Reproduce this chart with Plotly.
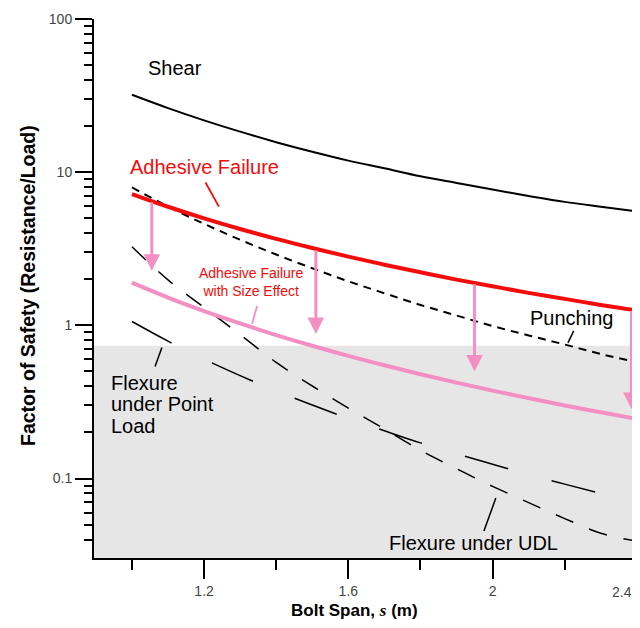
import math
import plotly.graph_objects as go

# ---------------- data ----------------
span = [1.0, 1.1, 1.2, 1.3, 1.4, 1.5, 1.6, 1.7, 1.8, 1.9, 2.0, 2.1, 2.2, 2.3, 2.4]
shear = [32, 26.2, 21.8, 18.4, 15.7, 13.6, 11.9, 10.6, 9.4, 8.5, 7.7, 7.0, 6.4, 5.95, 5.55]
adhesive = [7.2, 5.95, 5.0, 4.26, 3.67, 3.2, 2.81, 2.49, 2.22, 1.99, 1.80, 1.63, 1.49, 1.36, 1.25]
adhesive_size = [1.9, 1.52, 1.24, 1.03, 0.864, 0.736, 0.632, 0.549, 0.480, 0.423, 0.375, 0.335, 0.300, 0.271, 0.245]
punching = [7.95, 5.97, 4.60, 3.62, 2.90, 2.36, 1.94, 1.62, 1.36, 1.16, 0.99, 0.86, 0.75, 0.65, 0.575]
flex_point = [1.06, 0.789, 0.602, 0.470, 0.373, 0.302, 0.247, 0.205, 0.171, 0.145, 0.124, 0.106, 0.092, 0.080, 0.070]
flex_udl = [3.26, 1.98, 1.31, 0.87, 0.573, 0.402, 0.288, 0.211, 0.153, 0.116, 0.089, 0.0696, 0.0548, 0.0440, 0.039]

# size-effect reduction arrows
arrow_span = [1.055, 1.51, 1.95, 2.385]
arrow_from = [6.5, 3.15, 1.9, 1.27]
arrow_to = [2.27, 0.88, 0.50, 0.284]

unsafe_limit = 0.735  # top of grey zone

x_ticks = [1.2, 1.6, 2.0, 2.4]
x_ticktext = ["1.2", "1.6", "2", ""]   # "2.4" drawn separately so it stays inside the page
last_x_label = "2.4"
y_ticks = [0.1, 1, 10, 100]
y_ticktext = ["0.1", "1", "10", "100"]
y_minor = [v * m for v in [0.01, 0.1, 1, 10] for m in range(2, 10)]

# ---------------- styling ----------------
FONT = "Liberation Sans, Arial, sans-serif"
RED = "#F20C0C"
PINK = "#F48FC3"
GREY = "#E6E6E6"
TICKCOL = "#444"
L = math.log10

X_MIN, X_MAX = 0.8947, 2.4005
Y_MIN, Y_MAX = 0.0303, 100

fig = go.Figure()

# grey unsafe region (shapes on log axes take raw values)
fig.add_shape(type="rect", xref="x", yref="y", x0=X_MIN, x1=X_MAX,
              y0=Y_MIN, y1=unsafe_limit, fillcolor=GREY,
              line=dict(width=0), layer="below")

def line(y, color, width, dash="solid"):
    fig.add_trace(go.Scatter(x=span, y=y, mode="lines", showlegend=False,
                             line=dict(color=color, width=width, dash=dash,
                                       shape="spline"),
                             hoverinfo="skip"))

line(flex_point, "black", 1.5, "45px,45px")
line(flex_udl, "black", 1.5, "19px,17px")
line(punching, "black", 2, "8px,6px")
line(shear, "black", 2)
line(adhesive_size, PINK, 4)
line(adhesive, RED, 4)

ann = []
for s, a, b in zip(arrow_span, arrow_from, arrow_to):
    ann.append(dict(x=s, y=L(b), ax=s, ay=L(a), xref="x", yref="y",
                    axref="x", ayref="y", showarrow=True, arrowhead=2,
                    arrowsize=1.1, arrowwidth=3, arrowcolor=PINK, text="",
                    standoff=0, startstandoff=0))

def label(text, x, y, color="black", size=20, xanchor="left"):
    ann.append(dict(x=x, y=y, xref="x", yref="y", text=text, showarrow=False,
                    xanchor=xanchor, yanchor="middle",
                    align="left" if xanchor == "left" else "center",
                    font=dict(family=FONT, size=size, color=color)))

def leader(x0, y0, x1, y1, color="black", width=1.5):
    # y given in log10 units, converted to raw values for the log axis
    fig.add_shape(type="line", xref="x", yref="y", x0=x0, y0=10 ** y0,
                  x1=x1, y1=10 ** y1, line=dict(color=color, width=width))

label("Shear", 1.040, 1.683)
label("Adhesive Failure", 0.990, 1.036, RED)
leader(1.204, 0.933, 1.241, 0.775, RED, 1.8)
label("Adhesive Failure<br>with Size Effect", 1.33, 0.284, RED, 14, "center")
leader(1.347, 0.127, 1.333, 0.010, PINK, 1.8)
label("Punching", 2.097, 0.049)
leader(2.225, -0.036, 2.209, -0.114)
label("Flexure", 0.935, -0.376)
label("under Point", 0.935, -0.516)
label("Load", 0.935, -0.657)
leader(1.083, -0.144, 1.064, -0.268)
label("Flexure under UDL", 1.706, -1.42)
leader(2.009, -1.127, 1.976, -1.343)

PW, PH = 543, 539  # plot area size in px

# last x tick label, kept inside the page edge
ann.append(dict(x=(634 - 94) / PW, y=-(592 - 558) / PH, xref="paper", yref="paper",
                text=last_x_label, showarrow=False, xanchor="right", yanchor="middle",
                font=dict(family=FONT, size=14, color=TICKCOL)))

# x axis title
ann.append(dict(x=(354 - 94) / PW, y=-(610 - 558) / PH, xref="paper", yref="paper",
                text="<b>Bolt Span, </b><i style='font-family:Liberation Serif'><b>s</b></i><b> (m)</b>",
                showarrow=False, xanchor="center", yanchor="middle",
                font=dict(family=FONT, size=17, color="black")))

# y axis title
ann.append(dict(x=(28 - 94) / PW, y=(558 - 286) / PH, xref="paper", yref="paper",
                text="<b>Factor of Safety (Resistance/Load)</b>", textangle=-90,
                showarrow=False, xanchor="center", yanchor="middle",
                font=dict(family=FONT, size=19.5, color="black")))

# the page body adds an 8px margin, so the figure is sized to fit the window
fig.update_layout(
    width=632, height=620,
    margin=dict(l=86, r=3, t=11, b=70, autoexpand=False),
    paper_bgcolor="white", plot_bgcolor="white",
    annotations=ann,
    font=dict(family=FONT),
    xaxis=dict(range=[X_MIN, X_MAX], showgrid=False, zeroline=False,
               automargin=False,
               showline=True, linecolor="black", linewidth=2,
               tickmode="array", tickvals=x_ticks, ticktext=x_ticktext,
               ticks="outside", ticklen=19, tickwidth=1.8, tickcolor="black",
               tickfont=dict(family=FONT, size=14, color=TICKCOL),
               minor=dict(tickmode="array", tickvals=[1.0, 1.4, 1.8, 2.2],
                          ticks="outside", ticklen=10, tickwidth=1.8,
                          tickcolor="black", showgrid=False)),
    yaxis=dict(type="log", range=[L(Y_MIN), L(Y_MAX)], showgrid=False,
               zeroline=False, showline=True, linecolor="black", linewidth=2,
               automargin=False,
               tickmode="array", tickvals=y_ticks, ticktext=y_ticktext,
               ticks="outside", ticklen=17, tickwidth=1.8, tickcolor="black",
               tickfont=dict(family=FONT, size=14, color=TICKCOL),
               minor=dict(tickmode="array", tickvals=y_minor, ticks="outside",
                          ticklen=8, tickwidth=1.5, tickcolor="black",
                          showgrid=False)),
)

fig.write_html("out.html")
